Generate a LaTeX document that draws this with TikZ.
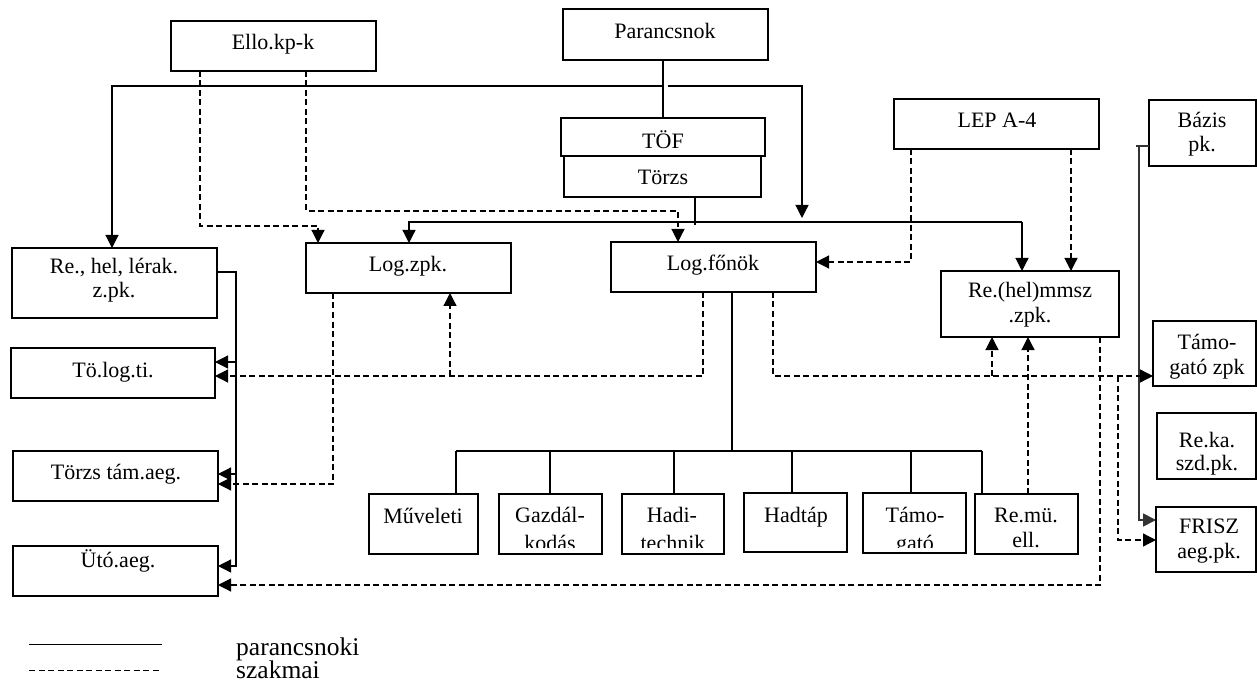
\documentclass[tikz,border=0pt]{standalone}
\usepackage{fontspec}
\setmainfont{Liberation Serif}
\usetikzlibrary{arrows.meta}

% box given by its corners (x1,y1) (x2,y2)
\newcommand\mkbox[5]{%
  \node[box,minimum width={#4-#2},minimum height={#5-#3}] (#1) at ({(#2+#4)/2},{(#3+#5)/2}) {};}
% one line of text, placed by its baseline centre
\newcommand\boxtxt[4]{\node[txt] (#1) at (#2,#3) {#4};}

\begin{document}
\begin{tikzpicture}[x=1pt,y=-1pt,
  box/.style={draw,line width=1.4pt,inner sep=0pt,outer sep=0pt},
  txt/.style={anchor=base,inner sep=0pt,font=\fontsize{22}{25}\selectfont},
  cmd/.style={line width=1.2pt},
  prof/.style={line width=1.2pt,dash pattern=on 6pt off 3.5pt},
  tip/.style={-{Triangle[length=13pt,width=13pt]}},
  legtxt/.style={anchor=base west,inner sep=0pt,font=\fontsize{25.5}{30}\selectfont}]
\useasboundingbox (0,0) rectangle (1257,684);

% ---- boxes ----
\mkbox{ello}{171}{21}{376}{71}
\mkbox{par}{563}{9}{768}{60}
\mkbox{tof}{561}{118}{765}{156}
\mkbox{torzs}{564}{156}{761}{197}
\mkbox{lep}{894}{99}{1099}{149}
\mkbox{bazis}{1149}{100}{1256}{166}
\mkbox{rehel}{12}{248}{217}{318}
\mkbox{logzpk}{306}{243}{511}{293}
\mkbox{logfo}{611}{242}{816}{292}
\mkbox{rehm}{941}{271}{1119}{337}
\mkbox{tamzpk}{1153}{321}{1256}{386}
\mkbox{reka}{1157}{413}{1256}{479}
\mkbox{frisz}{1156}{507}{1256}{572}
\mkbox{tolog}{11}{348}{215}{398}
\mkbox{torzstam}{13}{451}{218}{501}
\mkbox{uto}{13}{546}{218}{596}
\mkbox{muv}{369}{494}{478}{554}
\mkbox{gazd}{499}{494}{602}{554}
\mkbox{hadi}{622}{494}{724}{554}
\mkbox{hadtap}{744}{493}{847}{552}
\mkbox{tamo}{863}{493}{966}{553}
\mkbox{remu}{975}{494}{1078}{554}

% ---- texts ----
\boxtxt{ello-t}{273}{50}{Ello.kp-k}
\boxtxt{par-t}{665}{39}{Parancsnok}
\boxtxt{tof-t}{663}{149}{TÖF}
\boxtxt{torzs-t}{663}{185}{Törzs}
\boxtxt{lep-t}{997}{128}{LEP A-4}
\boxtxt{bazis-a}{1202}{128}{Bázis}
\boxtxt{bazis-b}{1202}{152}{pk.}
\boxtxt{rehel-a}{114}{274}{Re., hel, lérak.}
\boxtxt{rehel-b}{114}{298}{z.pk.}
\boxtxt{logzpk-t}{408}{272}{Log.zpk.}
\boxtxt{logfo-t}{713}{271}{Log.főnök}
\boxtxt{rehm-a}{1030}{298}{Re.(hel)mmsz}
\boxtxt{rehm-b}{1030}{323}{.zpk.}
\boxtxt{tamzpk-a}{1207}{349}{Támo-}
\boxtxt{tamzpk-b}{1207}{374}{gató zpk}
\boxtxt{reka-a}{1207}{447}{Re.ka.}
\boxtxt{reka-b}{1207}{470}{szd.pk.}
\boxtxt{frisz-a}{1209}{533}{FRISZ}
\boxtxt{frisz-b}{1209}{558}{aeg.pk.}
\boxtxt{tolog-t}{113}{377}{Tö.log.ti.}
\boxtxt{torzstam-t}{116}{479}{Törzs tám.aeg.}
\boxtxt{uto-t}{118}{567}{Ütó.aeg.}
\boxtxt{muv-t}{423}{523}{Műveleti}
\boxtxt{gazd-a}{550}{522}{Gazdál-}
\boxtxt{hadi-a}{672}{522}{Hadi-}
\boxtxt{hadtap-t}{796}{522}{Hadtáp}
\boxtxt{tamo-a}{915}{522}{Támo-}
\boxtxt{remu-a}{1026}{522}{Re.mü.}
\boxtxt{remu-b}{1026}{547}{ell.}
% second lines that run past the inner edge of their box
\begin{scope}
  \clip (499,494) rectangle (602,547);
  \boxtxt{gazd-b}{550}{550}{kodás}
\end{scope}
\begin{scope}
  \clip (622,494) rectangle (724,547);
  \boxtxt{hadi-b}{673}{550}{technik}
\end{scope}
\begin{scope}
  \clip (863,494) rectangle (966,547);
  \boxtxt{tamo-b}{915}{550}{gató}
\end{scope}

% ---- command lines (parancsnoki) ----
\coordinate (jl) at (663,86);
\coordinate (jlw) at (112,86);
\coordinate (jre) at (668,86);
\coordinate (jrd) at (802,218);
\draw[cmd] (par.south -| jl) -- (tof.north -| jl);
\draw[cmd,tip] (jl) -- (jlw) -- (jlw |- rehel.north);
\draw[cmd,tip] (jre) -| (jrd);

\coordinate (tz) at (695,225);
\coordinate (bw) at (409,222);
\coordinate (be) at (1022,222);
\draw[cmd] (tz |- torzs.south) -- (tz);
\draw[cmd,tip] (be) -- (bw) -- (bw |- logzpk.north);
\draw[cmd,tip] (be) -- (be |- rehm.north);

\coordinate (lb) at (236,272);
\coordinate (lb1) at (236,362);
\coordinate (lb2) at (236,474);
\coordinate (lb3) at (236,566);
\draw[cmd,tip] (rehel.east |- lb) -- (lb) -- (lb3) -- (lb3 -| uto.east);
\draw[cmd,tip] (lb1) -- (lb1 -| tolog.east);
\draw[cmd,tip] (lb2) -- (lb2 -| torzstam.east);

\coordinate (hb) at (732,451);
\coordinate (hbw) at (456,451);
\coordinate (hbe) at (982,451);
\draw[cmd] (hb |- logfo.south) -- (hb);
\draw[cmd] (hbw) -- (hbe);
\foreach \n/\x in {muv/456,gazd/550,hadi/674,hadtap/792,tamo/911,remu/982}{
  \coordinate (dp) at (\x,451);
  \draw[cmd] (dp) -- (dp |- \n.north);
}

\coordinate (bz) at (1139,146);
\coordinate (bzf) at (1139,520);
\draw[cmd,line width=1.8pt,black!80] (bazis.west |- bz) -- ([xshift=-3pt]bz);
\draw[cmd,line width=1.8pt,black!80,tip] (bz) -- (bzf) -- (bzf -| frisz.west);

% ---- professional lines (szakmai) ----
\coordinate (ea) at (200,226);
\coordinate (eat) at (318,226);
\draw[prof,tip] (ello.south -| ea) -- (ea) -- (eat) -- (eat |- logzpk.north);
\coordinate (eb) at (306,211);
\coordinate (ebt) at (678,211);
\draw[prof,tip] (ello.south -| eb) -- (eb) -- (ebt) -- (ebt |- logfo.north);

\coordinate (la) at (911,262);
\draw[prof,tip] (lep.south -| la) -- (la) -- (la -| logfo.east);
\coordinate (lr) at (1071,200);
\draw[prof,tip] (lep.south -| lr) -- (lr |- rehm.north);

\coordinate (za) at (333,484);
\draw[prof,tip] (logzpk.south -| za) -- (za) -- (za -| torzstam.east);

\coordinate (fa) at (703,376);
\coordinate (fb) at (450,376);
\draw[prof,tip] (logfo.south -| fa) -- (fa) -- (fa -| tolog.east);
\draw[prof,tip] (fb) -- (fb |- logzpk.south);

\coordinate (ga) at (773,376);
\coordinate (gb) at (992,376);
\coordinate (gc) at (1118,376);
\coordinate (gd) at (1118,540);
\draw[prof,tip] (logfo.south -| ga) -- (ga) -- (ga -| tamzpk.west);
\draw[prof,tip] (gb) -- (gb |- rehm.south);
\draw[prof,tip] (gc) -- (gd) -- (gd -| frisz.west);

\coordinate (ha) at (1028,450);
\draw[prof,tip] (remu.north -| ha) -- (ha |- rehm.south);

\coordinate (ia) at (1100,585);
\draw[prof,tip] (rehm.south -| ia) -- (ia) -- (ia -| uto.east);

% ---- legend ----
\coordinate (ls1) at (29,644);
\coordinate (le1) at (162,644);
\coordinate (ls2) at (29,670);
\coordinate (le2) at (162,670);
\draw[line width=1pt] (ls1) -- (le1);
\draw[line width=1pt,dash pattern=on 6pt off 3.5pt] (ls2) -- (le2);
\node[legtxt] (lg1) at (236,655) {parancsnoki};
\node[legtxt] (lg2) at (236,678) {szakmai};
\end{tikzpicture}
\end{document}
